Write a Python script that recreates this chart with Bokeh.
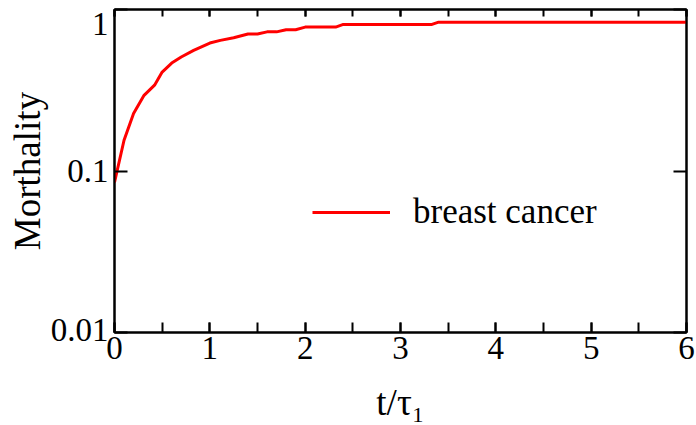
from bokeh.plotting import figure
from bokeh.models import (LogAxis, LinearAxis, FixedTicker, SingleIntervalTicker,
                          Range1d, Legend, LegendItem, CustomJSTickFormatter)
from bokeh.embed import file_html
from bokeh.resources import INLINE

# Data
t_tau = [0, 0.1, 0.2, 0.31, 0.42, 0.5, 0.6, 0.7, 0.83, 1.0, 1.11, 1.25, 1.4, 1.5,
         1.6, 1.7, 1.8, 1.9, 2.0, 2.32, 2.4, 3.33, 3.4, 6.0]
mortality = [0.085, 0.155, 0.227, 0.294, 0.34, 0.41, 0.466, 0.508, 0.558, 0.62, 0.644,
             0.669, 0.705, 0.705, 0.727, 0.727, 0.75, 0.75, 0.778, 0.778, 0.808, 0.808,
             0.835, 0.835]
series_name = "breast cancer"
y_ticks = [0.01, 0.1, 1]
y_tick_labels = ["0.01", "0.1", "1"]
x_label = "t/τ\u2081"
y_label = "Morthality"

FONT = "Liberation Serif"

p = figure(width=696, height=425, output_backend="svg", toolbar_location=None,
           x_range=Range1d(0, 6), y_range=Range1d(0.01, 1), y_axis_type="log",
           min_border_left=114, min_border_right=10, min_border_top=9,
           min_border_bottom=92)
p.grid.visible = False
p.outline_line_color = "black"
p.outline_line_width = 2
p.background_fill_color = "white"
p.border_fill_color = "white"

r = p.line(t_tau, mortality, line_color="#ff0000", line_width=3)

# bottom axis
xa = p.xaxis[0]
xa.ticker = SingleIntervalTicker(interval=1, num_minor_ticks=2)
xa.axis_line_width = 2
xa.major_tick_in = 10
xa.major_tick_out = 0
xa.minor_tick_in = 10
xa.minor_tick_out = 0
xa.major_tick_line_width = 2
xa.minor_tick_line_width = 2
xa.major_label_text_font = FONT
xa.major_label_text_font_size = "33px"
xa.major_label_standoff = 4
xa.major_label_text_color = "black"
xa.axis_label = x_label
xa.axis_label_text_font = FONT
xa.axis_label_text_font_size = "37px"
xa.axis_label_text_font_style = "normal"
xa.axis_label_standoff = 20
xa.axis_label_text_color = "black"

# left axis: end labels nudged inside the frame as in the reference
ya = p.yaxis[0]
ya.ticker = FixedTicker(ticks=y_ticks, minor_ticks=[])
ya.major_label_overrides = {
    y_ticks[0]: y_tick_labels[0] + "\n",
    y_ticks[1]: y_tick_labels[1],
    y_ticks[2]: "\n" + y_tick_labels[2],
}
ya.major_label_text_line_height = 0.15
ya.axis_line_width = 2
ya.major_tick_in = 13
ya.major_tick_out = 0
ya.major_tick_line_width = 2
ya.major_label_text_font = FONT
ya.major_label_text_font_size = "33px"
ya.major_label_standoff = 6
ya.major_label_text_color = "black"
ya.axis_label = y_label
ya.axis_label_text_font = FONT
ya.axis_label_text_font_size = "37px"
ya.axis_label_text_font_style = "normal"
ya.axis_label_standoff = 0
ya.axis_label_text_color = "black"

blank = CustomJSTickFormatter(code="return '';")

# top axis (ticks only)
ta = LinearAxis(ticker=SingleIntervalTicker(interval=1, num_minor_ticks=2),
                formatter=blank,
                major_tick_in=7, major_tick_out=0, minor_tick_in=7, minor_tick_out=0,
                major_tick_line_width=2, minor_tick_line_width=2, axis_line_width=2,
                major_label_standoff=0)
p.add_layout(ta, "above")

# right axis (ticks only)
ra = LogAxis(ticker=FixedTicker(ticks=y_ticks, minor_ticks=[]), formatter=blank,
             major_tick_in=13, major_tick_out=0, major_tick_line_width=2,
             axis_line_width=2, major_label_standoff=0)
p.add_layout(ra, "right")

# legend
legend = Legend(items=[LegendItem(label=series_name, renderers=[r])],
                location=(198, 100), glyph_width=78, glyph_height=30,
                label_standoff=23, padding=0, margin=0, spacing=0,
                border_line_color=None, background_fill_alpha=0,
                label_text_font=FONT, label_text_font_size="35px",
                label_text_color="black")
p.add_layout(legend, "center")

open("out.html", "w").write(file_html(p, INLINE))
